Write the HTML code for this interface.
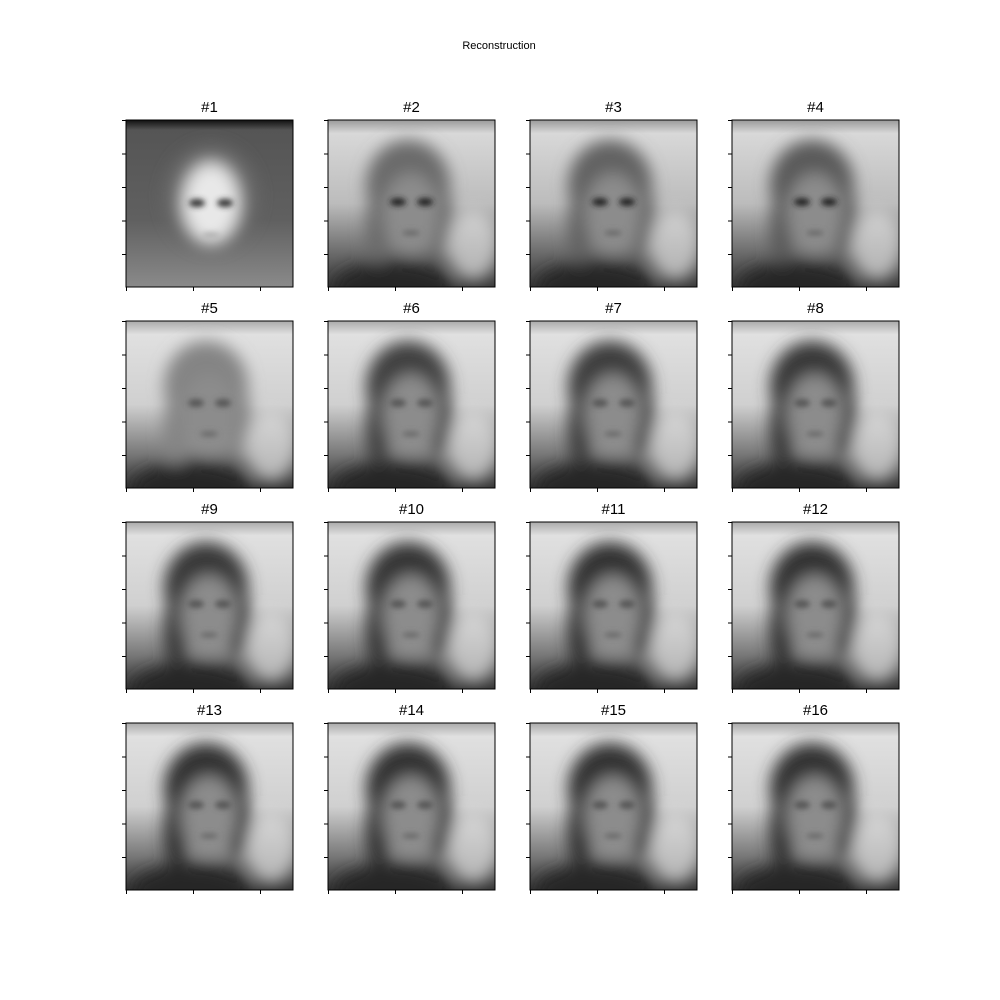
<!DOCTYPE html>
<html><head><meta charset="utf-8">
<style>
html,body{margin:0;padding:0;background:#fff;}
svg{display:block;font-family:"Liberation Sans","DejaVu Sans",sans-serif;}
</style></head>
<body>
<svg id="fig" width="1000" height="1000" viewBox="0 0 1000 1000">
<defs>
<filter id="blur" x="-20%" y="-20%" width="140%" height="140%"><feGaussianBlur stdDeviation="8"/></filter>
<filter id="blur2" x="-20%" y="-20%" width="140%" height="140%"><feGaussianBlur stdDeviation="3"/></filter>
<linearGradient id="bg1" x1="0" y1="0" x2="0" y2="1">
<stop offset="0" stop-color="#111"/><stop offset="0.06" stop-color="#555"/><stop offset="0.6" stop-color="#606060"/><stop offset="1" stop-color="#8a8a8a"/></linearGradient>
<linearGradient id="bgA" x1="0" y1="0" x2="0" y2="1">
<stop offset="0" stop-color="#9a9a9a"/><stop offset="0.08" stop-color="#d8d8d8"/><stop offset="0.5" stop-color="#bcbcbc"/><stop offset="0.8" stop-color="#6a6a6a"/><stop offset="1" stop-color="#383838"/></linearGradient>
<linearGradient id="bgB" x1="0" y1="0" x2="0" y2="1">
<stop offset="0" stop-color="#aaa"/><stop offset="0.08" stop-color="#e0e0e0"/><stop offset="0.5" stop-color="#d0d0d0"/><stop offset="0.8" stop-color="#777"/><stop offset="1" stop-color="#333"/></linearGradient>
</defs>
<text x="499" y="49" font-size="11" text-anchor="middle">Reconstruction</text>
<g id="panels"></g>
</svg>
<script>
const titles=["#1","#2","#3","#4","#5","#6","#7","#8","#9","#10","#11","#12","#13","#14","#15","#16"];
const hairDark=[0,0.55,0.6,0.65,0.4,0.8,0.82,0.85,0.85,0.87,0.88,0.88,0.88,0.88,0.88,0.88];
const colX=[126,328,530,732], rowY=[120,321,522,723], S=167;
const NS="http://www.w3.org/2000/svg";
const g=document.getElementById('panels');
function mk(tag,attrs,parent){const e=document.createElementNS(NS,tag);for(const k in attrs)e.setAttribute(k,attrs[k]);parent.appendChild(e);return e;}
titles.forEach((t,i)=>{
  const x=colX[i%4], y=rowY[Math.floor(i/4)];
  const p=mk('g',{},g);
  
  
  const cp=mk('clipPath',{id:'c'+i},p);
  mk('rect',{x:x,y:y,width:S,height:S},cp);
  const img=mk('g',{'clip-path':'url(#c'+i+')'},p);
  
  
  const cx=x+85, cy=y+85;
  if(i===0){
    mk('rect',{x:x,y:y,width:S,height:S,fill:'url(#bg1)'},img);
    const f=mk('g',{filter:'url(#blur)'},img);
    mk('ellipse',{cx:cx,cy:cy-8,rx:46,ry:52,fill:'#6c6c6c'},f);
    mk('ellipse',{cx:cx,cy:cy-2,rx:28,ry:40,fill:'#e8e8e8'},f);
    const e=mk('g',{filter:'url(#blur2)'},img);
    mk('ellipse',{cx:cx-14,cy:cy-2,rx:8,ry:4,fill:'#333'},e);
    mk('ellipse',{cx:cx+14,cy:cy-2,rx:8,ry:4,fill:'#333'},e);
    mk('ellipse',{cx:cx,cy:cy+30,rx:9,ry:2.5,fill:'#aaa'},e);
  } else {
    const d=hairDark[i];
    mk('rect',{x:x,y:y,width:S,height:S,fill:i<4?'url(#bgA)':'url(#bgB)'},img);
    const f=mk('g',{filter:'url(#blur)'},img);
    const hv=Math.round(200-170*d);
    const hc='rgb('+hv+','+hv+','+hv+')';
    mk('ellipse',{cx:cx-5,cy:cy-20,rx:42,ry:45,fill:hc},f);
    mk('ellipse',{cx:cx-35,cy:cy+25,rx:12,ry:40,fill:hc},f);
    mk('ellipse',{cx:cx+28,cy:cy+15,rx:12,ry:35,fill:hc},f);
    mk('ellipse',{cx:cx-2,cy:cy+8,rx:28,ry:40,fill:'#8c8c8c'},f);
    mk('ellipse',{cx:cx-20,cy:y+S,rx:60,ry:25,fill:'#252525'},f);
    mk('ellipse',{cx:cx+60,cy:cy+40,rx:25,ry:35,fill:'#e0e0e0',opacity:0.7},f);
    const e=mk('g',{filter:'url(#blur2)'},img);
    const ev=i<4?'#202020':'#555';
    mk('ellipse',{cx:cx-15,cy:cy-3,rx:8,ry:4,fill:ev},e);
    mk('ellipse',{cx:cx+12,cy:cy-3,rx:8,ry:4,fill:ev},e);
    mk('ellipse',{cx:cx-2,cy:cy+28,rx:9,ry:2.5,fill:'#666'},e);
  }
  const fr=mk('rect',{x:x,y:y,width:S,height:S,fill:'none',stroke:'#000','stroke-width':1},p);
  
  
  [0,33.5,67,100.5,134].forEach(o=>{mk('line',{x1:x-4,y1:y+o+0.5,x2:x,y2:y+o+0.5,stroke:'#000','stroke-width':1},p);});
  [0,67,134].forEach(o=>{mk('line',{x1:x+o+0.5,y1:y+S,x2:x+o+0.5,y2:y+S+4,stroke:'#000','stroke-width':1},p);});
  const tt=mk('text',{x:x+S/2,y:y-8,'font-size':'15','text-anchor':'middle'},p);
  tt.textContent=t;
  
  
});
</script>
</body></html>
